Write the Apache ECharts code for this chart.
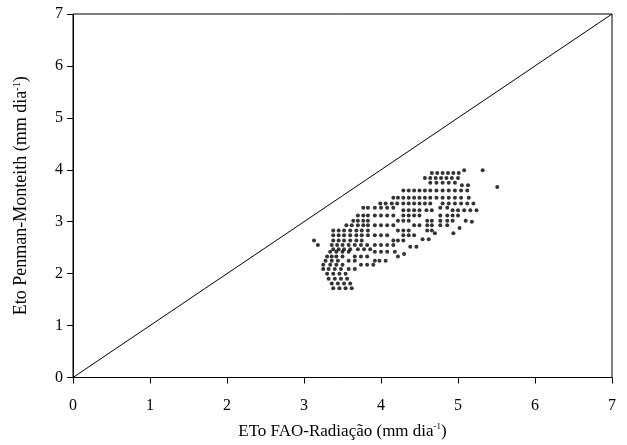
<!DOCTYPE html>
<html>
<head>
<meta charset="utf-8">
<script src="https://cdn.jsdelivr.net/npm/echarts@6/dist/echarts.min.js"></script>
<style>
html,body{margin:0;padding:0;background:#fff;}
#container{width:627px;height:445px;}
</style>
</head>
<body>
<div id="container"></div>
<script>
// ticks for both axes
var tickLabels = ['0', '1', '2', '3', '4', '5', '6', '7'];

// 1:1 reference line
var lineX = [0, 7];
var lineY = [0, 7];

// scatter, row by row (y value, then the x values in that row)
var rowY = [
    3.99, 3.94, 3.84, 3.75, 3.70, 3.67, 3.60, 3.46, 3.35, 3.27,
    3.22, 3.12, 3.02, 2.93, 2.83, 2.74, 2.64, 2.55, 2.47, 2.42,
    2.33, 2.25, 2.17, 2.09, 2.00, 1.90, 1.81, 1.72,
    2.38, 2.52, 2.66, 2.78, 2.88, 3.00
];
var rowX = [
    [5.08, 5.32],
    [4.66, 4.73, 4.80, 4.87, 4.94, 5.01],
    [4.57, 4.64, 4.71, 4.78, 4.85, 4.92, 5.00],
    [4.64, 4.72, 4.80, 4.88, 4.96],
    [5.05, 5.13],
    [5.51],
    [4.29, 4.36, 4.43, 4.50, 4.57, 4.64, 4.72, 4.80, 4.88, 4.96, 5.04, 5.12],
    [4.16, 4.22, 4.29, 4.36, 4.43, 4.50, 4.57, 4.64, 4.72, 4.80, 4.88, 4.96, 5.04, 5.14],
    [3.99, 4.06, 4.14, 4.21, 4.29, 4.36, 4.43, 4.50, 4.57, 4.64, 4.80, 4.88, 4.96, 5.04, 5.12, 5.20],
    [3.77, 3.83, 3.92, 4.00, 4.08, 4.16, 4.77, 4.86],
    [4.29, 4.36, 4.43, 4.50, 4.59, 4.66, 4.93, 5.00, 5.08, 5.16, 5.24],
    [3.70, 3.77, 3.83, 3.92, 4.00, 4.08, 4.16, 4.29, 4.36, 4.43, 4.50, 4.77, 4.86, 4.93, 5.00],
    [3.64, 3.70, 3.77, 3.83, 4.22, 4.29, 4.36, 4.60, 4.66, 4.77, 4.86, 4.93, 5.10],
    [3.55, 3.62, 3.70, 3.77, 3.83, 3.92, 4.00, 4.08, 4.16, 4.43, 4.50, 4.60, 4.66, 4.77, 4.86],
    [3.38, 3.45, 3.52, 3.60, 3.68, 3.75, 3.83, 4.22, 4.29, 4.36, 4.60, 4.66],
    [3.38, 3.45, 3.52, 3.60, 3.68, 3.75, 3.83, 3.92, 4.00, 4.08, 4.29, 4.36, 4.43],
    [3.13, 3.38, 3.45, 3.52, 3.60, 3.68, 3.75, 4.16, 4.22, 4.29],
    [3.18, 3.36, 3.43, 3.50, 3.58, 3.66, 3.74, 3.82, 3.92, 4.00, 4.08, 4.16],
    [3.38, 3.45, 3.52, 3.60, 3.70, 3.78, 3.86],
    [3.34, 3.42, 3.50, 3.58, 3.92, 4.00, 4.08, 4.18],
    [3.30, 3.36, 3.42, 3.50, 3.66, 3.74, 3.82, 4.22],
    [3.28, 3.36, 3.44, 3.58, 3.66, 3.92, 3.98, 4.06],
    [3.25, 3.34, 3.42, 3.50, 3.74, 3.82, 3.90],
    [3.25, 3.32, 3.40, 3.48, 3.58, 3.66],
    [3.30, 3.38, 3.46, 3.54],
    [3.32, 3.40, 3.48, 3.56],
    [3.36, 3.44, 3.52, 3.60],
    [3.38, 3.46, 3.54, 3.62],
    [4.30],
    [4.38, 4.46],
    [4.54, 4.62],
    [4.70, 4.94],
    [5.02],
    [5.18]
];

var points = [];
for (var i = 0; i < rowY.length; i++) {
    for (var j = 0; j < rowX[i].length; j++) {
        points.push([rowX[i][j], rowY[i]]);
    }
}
var linePts = [];
for (var k = 0; k < lineX.length; k++) {
    linePts.push([lineX[k], lineY[k]]);
}

var serif = '"Liberation Serif", "DejaVu Serif", serif';

var option = {
    backgroundColor: '#fff',
    animation: false,
    grid: {
        left: 73, right: 15, top: 14, bottom: 63,
        show: true,
        borderColor: '#000',
        borderWidth: 1
    },
    xAxis: {
        type: 'value',
        min: 0, max: 7, interval: 1,
        name: '{n|ETo FAO-Radiação (mm dia}{s|-1}{n|)}',
        nameLocation: 'middle',
        nameGap: 45,
        nameTextStyle: {
            rich: {
                n: { fontFamily: serif, fontSize: 17, color: '#000' },
                s: { fontFamily: serif, fontSize: 9, color: '#000', verticalAlign: 'top', padding: [0, 0, 9, 0] }
            }
        },
        axisLine: { lineStyle: { color: '#000', width: 1 } },
        axisTick: { show: true, length: 6, lineStyle: { color: '#000' } },
        axisLabel: {
            margin: 20,
            fontFamily: serif, fontSize: 16, color: '#000',
            formatter: function (v) { return tickLabels[v]; }
        },
        splitLine: { show: false }
    },
    yAxis: {
        type: 'value',
        min: 0, max: 7, interval: 1,
        name: '{n|Eto Penman-Monteith (mm dia}{s|-1}{n|)}',
        nameLocation: 'middle',
        nameGap: 42,
        nameTextStyle: {
            rich: {
                n: { fontFamily: serif, fontSize: 18, color: '#000' },
                s: { fontFamily: serif, fontSize: 10, color: '#000', verticalAlign: 'top', padding: [0, 0, 9, 0] }
            }
        },
        axisLine: { lineStyle: { color: '#000', width: 1 } },
        axisTick: { show: true, length: 6, lineStyle: { color: '#000' } },
        axisLabel: {
            margin: 10,
            fontFamily: serif, fontSize: 16, color: '#000',
            formatter: function (v) { return tickLabels[v]; }
        },
        splitLine: { show: false }
    },
    series: [
        {
            type: 'line',
            data: linePts,
            showSymbol: false,
            lineStyle: { color: '#000', width: 1 },
            silent: true
        },
        {
            type: 'scatter',
            data: points,
            symbolSize: 4,
            itemStyle: { color: '#000' }
        }
    ]
};

var myChart = echarts.init(document.getElementById('container'));
myChart.setOption(option);
</script>
</body>
</html>
